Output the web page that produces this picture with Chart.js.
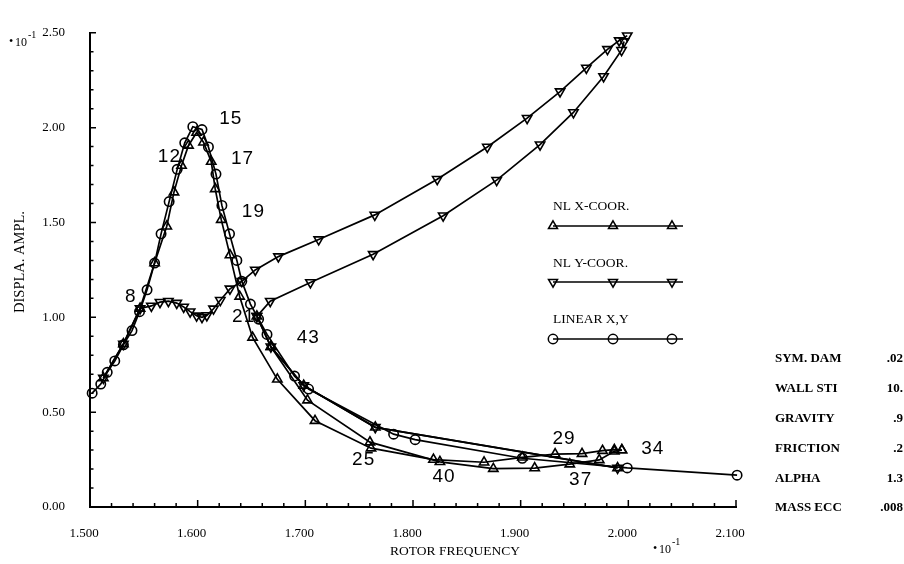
<!DOCTYPE html>
<html>
<head>
<meta charset="utf-8">
<script src="https://cdn.jsdelivr.net/npm/chart.js@4.4.0/dist/chart.umd.min.js"></script>
<style>
  html, body { margin: 0; padding: 0; background: #fff; }
  #wrap { width: 904px; height: 564px; }
</style>
</head>
<body>
<div id="wrap"><canvas id="rotorChart" width="904" height="564"></canvas></div>
<script>
// axis ticks (units of 1e-1)
const xTickValues = [1.5, 1.6, 1.7, 1.8, 1.9, 2.0, 2.1];
const yTickValues = [0, 0.5, 1.0, 1.5, 2.0, 2.5];

// NL X-coordinate, sweep up then back down
const xFwdFreq = [1.5124, 1.531, 1.5465, 1.560, 1.5713, 1.578, 1.585, 1.5915, 1.599, 1.6054, 1.6126, 1.6163, 1.6219, 1.630, 1.639, 1.651, 1.674, 1.709, 1.761, 1.819, 1.866, 1.9015, 1.932, 1.957, 1.976, 1.987, 1.994];
const xFwdAmp  = [0.68, 0.86, 1.047, 1.286, 1.48, 1.66, 1.80, 1.906, 1.974, 1.923, 1.821, 1.677, 1.515, 1.328, 1.11, 0.894, 0.673, 0.455, 0.31, 0.25, 0.236, 0.262, 0.279, 0.281, 0.297, 0.302, 0.30];
const xBackFreq = [1.994, 1.987, 1.973, 1.9456, 1.913, 1.8746, 1.825, 1.760, 1.702, 1.668];
const xBackAmp  = [0.30, 0.294, 0.248, 0.226, 0.205, 0.202, 0.238, 0.342, 0.563, 0.845];

// NL Y-coordinate
const yFwdFreq = [1.5124, 1.531, 1.5465, 1.557, 1.565, 1.5728, 1.5806, 1.587, 1.593, 1.599, 1.604, 1.6085, 1.6147, 1.621, 1.630, 1.641, 1.6535, 1.675, 1.7124, 1.7645, 1.8225, 1.869, 1.906, 1.9366, 1.961, 1.9806, 1.9915, 1.999];
const yFwdAmp  = [0.68, 0.86, 1.047, 1.06, 1.08, 1.085, 1.075, 1.055, 1.03, 1.008, 1.0, 1.01, 1.045, 1.09, 1.15, 1.19, 1.25, 1.32, 1.41, 1.54, 1.728, 1.898, 2.05, 2.19, 2.315, 2.413, 2.459, 2.485];
const yBackFreq = [1.996, 1.9937, 1.977, 1.949, 1.918, 1.8777, 1.828, 1.763, 1.7047, 1.6674, 1.655];
const yBackAmp  = [2.454, 2.408, 2.27, 2.08, 1.91, 1.723, 1.536, 1.332, 1.184, 1.085, 1.005];

// branch where NL X and NL Y coincide
const xyFreq = [1.655, 1.668, 1.6985, 1.765, 1.99];
const xyAmp  = [1.005, 0.845, 0.64, 0.42, 0.206];

// LINEAR X,Y
const linFreq = [1.502, 1.510, 1.516, 1.523, 1.531, 1.539, 1.546, 1.553, 1.560, 1.566, 1.5735, 1.581, 1.588, 1.5955, 1.604, 1.610, 1.617, 1.6225, 1.6296, 1.6364, 1.641, 1.649, 1.6566, 1.6644, 1.690, 1.703, 1.782, 1.802, 1.9015, 1.999, 2.101];
const linAmp  = [0.60, 0.648, 0.71, 0.77, 0.855, 0.93, 1.03, 1.145, 1.286, 1.44, 1.61, 1.78, 1.92, 2.005, 1.99, 1.898, 1.755, 1.59, 1.44, 1.30, 1.19, 1.07, 0.99, 0.91, 0.69, 0.622, 0.384, 0.355, 0.257, 0.206, 0.168];

// step numbers written next to the curves
const stepLabels = ['8', '12', '15', '17', '19', '21', '43', '25', '40', '29', '37', '34'];
const stepFreq   = [1.5326, 1.563, 1.620, 1.631, 1.641, 1.632, 1.692, 1.7434, 1.818, 1.9295, 1.945, 2.012];
const stepAmp    = [1.107, 1.847, 2.046, 1.837, 1.558, 1.005, 0.894, 0.248, 0.158, 0.359, 0.141, 0.305];

const legendNames = ['NL X-COOR.', 'NL Y-COOR.', 'LINEAR X,Y'];

const paramNames  = ['SYM. DAM', 'WALL STI', 'GRAVITY', 'FRICTION', 'ALPHA', 'MASS ECC'];
const paramValues = ['.02', '10.', '.9', '.2', '1.3', '.008'];

const SERIF = '"Liberation Serif", "Times New Roman", serif';
const SANS = '"Liberation Sans", Arial, sans-serif';

function pts(f, a) {
    return f.map((v, i) => ({ x: v, y: a[i] }));
}

function series(label, f, a, style, rot) {
    return {
        label: label,
        data: pts(f, a),
        showLine: true,
        borderColor: '#000',
        borderWidth: 1.7,
        pointStyle: style,
        pointRotation: rot,
        pointRadius: style === 'circle' ? 4.7 : 5.4,
        pointBorderWidth: 1.6,
        pointBorderColor: '#000',
        pointBackgroundColor: 'rgba(0,0,0,0)',
        tension: 0,
        clip: false,
    };
}

function marker(ctx, style, rot, x, y, r) {
    ctx.beginPath();
    if (style === 'circle') {
        ctx.arc(x, y, r, 0, Math.PI * 2);
    } else {
        let ang = rot * Math.PI / 180;
        for (let k = 0; k < 3; k++) {
            const px = x + Math.sin(ang) * r, py = y - Math.cos(ang) * r;
            k === 0 ? ctx.moveTo(px, py) : ctx.lineTo(px, py);
            ang += Math.PI * 2 / 3;
        }
        ctx.closePath();
    }
    ctx.stroke();
}

function sci(ctx, x, y) {
    ctx.font = '12px ' + SERIF;
    ctx.textAlign = 'left';
    ctx.textBaseline = 'middle';
    ctx.fillText('\u2022', x, y);
    ctx.fillText('10', x + 6, y + 1);
    ctx.font = '10px ' + SERIF;
    ctx.fillText('-1', x + 19, y - 7);
}

const decorations = {
    id: 'decorations',
    afterDraw(chart) {
        const { ctx, chartArea: area, scales: { x, y } } = chart;
        ctx.save();
        ctx.strokeStyle = '#000';
        ctx.fillStyle = '#000';
        ctx.lineWidth = 1.5;

        // inward tick marks
        ctx.beginPath();
        for (let i = 0; i <= 30; i++) {
            const px = x.getPixelForValue(1.5 + i * 0.02);
            const len = i % 5 === 0 ? 7 : 4;
            ctx.moveTo(px, area.bottom);
            ctx.lineTo(px, area.bottom - len);
        }
        for (let i = 0; i <= 25; i++) {
            const py = y.getPixelForValue(i * 0.1);
            const len = i % 5 === 0 ? 6 : 3.5;
            ctx.moveTo(area.left, py);
            ctx.lineTo(area.left + len, py);
        }
        ctx.stroke();

        // axis titles
        ctx.font = '13.5px ' + SERIF;
        ctx.textAlign = 'center';
        ctx.textBaseline = 'middle';
        ctx.fillText('ROTOR FREQUENCY', 455, 551);
        ctx.save();
        ctx.translate(20, 262);
        ctx.rotate(-Math.PI / 2);
        ctx.font = '14.5px ' + SERIF;
        ctx.fillText('DISPLA. AMPL.', 0, 0);
        ctx.restore();

        sci(ctx, 9, 42);
        sci(ctx, 653, 549);

        // step numbers
        ctx.font = '19px ' + SANS;
        ctx.letterSpacing = '1px';
        stepLabels.forEach((t, i) => {
            ctx.fillText(t, x.getPixelForValue(stepFreq[i]), y.getPixelForValue(stepAmp[i]));
        });
        ctx.letterSpacing = '0px';

        // legend block
        const styles = [['triangle', 0, 5.2], ['triangle', 180, 5.2], ['circle', 0, 4.7]];
        const textY = [206, 263, 319];
        const lineY = [226, 282, 339];
        ctx.font = '13.5px ' + SERIF;
        ctx.textAlign = 'left';
        legendNames.forEach((name, i) => {
            ctx.fillText(name, 553, textY[i]);
            ctx.beginPath();
            ctx.moveTo(553, lineY[i]);
            ctx.lineTo(683, lineY[i]);
            ctx.stroke();
            [553, 613, 672].forEach(mx => marker(ctx, styles[i][0], styles[i][1], mx, lineY[i], styles[i][2]));
        });

        // parameter table
        ctx.font = 'bold 13px ' + SERIF;
        paramNames.forEach((name, i) => {
            const py = 359 + i * 29.8;
            ctx.textAlign = 'left';
            ctx.fillText(name, 775, py);
            ctx.textAlign = 'right';
            ctx.fillText(paramValues[i], 903, py);
        });
        ctx.restore();
    }
};

const tickFont = { family: SERIF, size: 13 };

new Chart(document.getElementById('rotorChart').getContext('2d'), {
    type: 'scatter',
    data: {
        datasets: [
            series('NL X-COOR.', xFwdFreq, xFwdAmp, 'triangle', 0),
            series('NL X-COOR. back', xBackFreq, xBackAmp, 'triangle', 0),
            series('NL X-COOR. joint', xyFreq, xyAmp, 'triangle', 0),
            series('NL Y-COOR.', yFwdFreq, yFwdAmp, 'triangle', 180),
            series('NL Y-COOR. back', yBackFreq, yBackAmp, 'triangle', 180),
            series('NL Y-COOR. joint', xyFreq, xyAmp, 'triangle', 180),
            series('LINEAR X,Y', linFreq, linAmp, 'circle', 0),
        ]
    },
    options: {
        responsive: false,
        devicePixelRatio: 1,
        animation: false,
        layout: { padding: { left: 0, right: 168, top: 16, bottom: 0 } },
        plugins: {
            legend: { display: false },
            tooltip: { enabled: false },
        },
        scales: {
            x: {
                type: 'linear',
                min: 1.5,
                max: 2.1,
                afterBuildTicks: s => { s.ticks = xTickValues.map(v => ({ value: v })); },
                afterFit: s => { s.height = 57; },
                grid: { display: false, drawTicks: false },
                border: { display: true, color: '#000', width: 2 },
                ticks: {
                    color: '#000',
                    font: tickFont,
                    padding: 19,
                    labelOffset: -6,
                    maxRotation: 0,
                    autoSkip: false,
                    callback: v => v.toFixed(3),
                },
            },
            y: {
                type: 'linear',
                min: 0,
                max: 2.5,
                afterBuildTicks: s => { s.ticks = yTickValues.map(v => ({ value: v })); },
                afterFit: s => { s.width = 90; },
                grid: { display: false, drawTicks: false },
                border: { display: true, color: '#000', width: 2 },
                ticks: {
                    color: '#000',
                    font: tickFont,
                    padding: 25,
                    autoSkip: false,
                    callback: v => v.toFixed(2),
                },
            },
        },
    },
    plugins: [decorations],
});
</script>
</body>
</html>
